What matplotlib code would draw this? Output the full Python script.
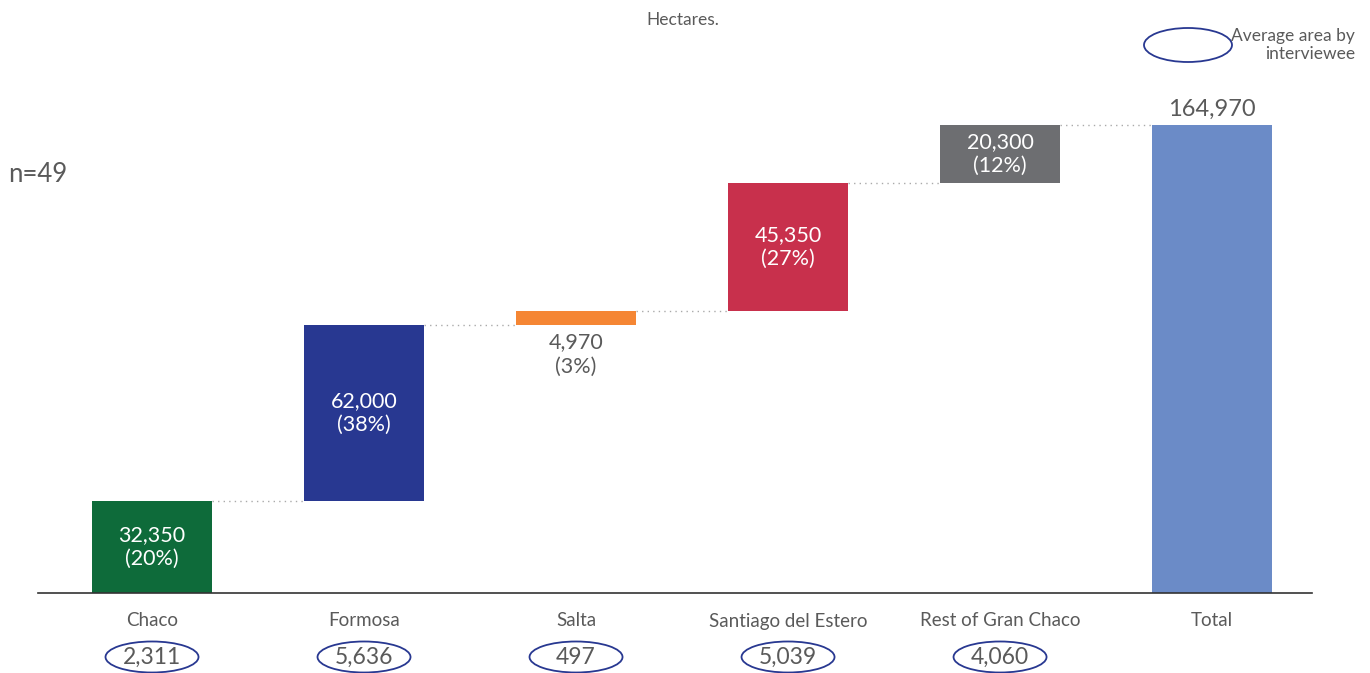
import matplotlib.pyplot as plt
from matplotlib.patches import Ellipse

plt.rcParams['font.family'] = ['Lato', 'DejaVu Sans']

categories = ['Chaco', 'Formosa', 'Salta', 'Santiago del Estero', 'Rest of Gran Chaco', 'Total']
values = [32350, 62000, 4970, 45350, 20300]
shares = ['20%', '38%', '3%', '27%', '12%']
avg_area = ['2,311', '5,636', '497', '5,039', '4,060']
colors = ['#0e6b3a', '#283891', '#f58634', '#c8304c', '#6d6e71', '#6b8bc7']

total = sum(values)
bottoms = [sum(values[:i]) for i in range(len(values))]

fig = plt.figure(figsize=(13.7, 6.73), dpi=100)
ax = fig.add_axes([0.0, 80 / 673, 1.0, (593 - 90) / 673])
ax.set_xlim(-0.717, 5.745)
ax.set_ylim(0, total * (593 - 90) / 468)
ax.axis('off')

w = 0.57
grey = '#5a5a5a'
x = list(range(len(categories)))
for i, (v, b) in enumerate(zip(values, bottoms)):
    ax.bar(x[i], v, bottom=b, width=w, color=colors[i], zorder=2)
    label = f'{v:,}\n({shares[i]})'
    if v < 10000:
        ax.text(x[i], b - 2500, label, ha='center', va='top', fontsize=15.5,
                color=grey, linespacing=1.25)
    else:
        ax.text(x[i], b + v / 2, label, ha='center', va='center', fontsize=15.5,
                color='white', linespacing=1.25)
ax.bar(x[-1], total, width=w, color=colors[-1], zorder=2)
ax.text(x[-1], total + 1800, f'{total:,}', ha='center', va='bottom', fontsize=17,
        color=grey)

# connectors
tops = [b + v for b, v in zip(bottoms, values)]
for i, t in enumerate(tops):
    ax.plot([x[i] + w / 2, x[i + 1] - w / 2], [t, t], ls=(0, (1, 3)),
            color='#aaaaaa', lw=1, zorder=1)

# baseline
ax.plot([-0.538, 5.47], [0, 0], color='#333333', lw=1.2, zorder=3, clip_on=False)

# category labels and averages
for i, c in enumerate(categories):
    fx, _ = fig.transFigure.inverted().transform(ax.transData.transform((x[i], 0)))
    fig.text(fx, 1 - 621 / 673, c, ha='center', va='center', fontsize=13.5, color=grey)
    if i < len(avg_area):
        fig.text(fx, 1 - 657 / 673, avg_area[i], ha='center', va='center', fontsize=16.5,
                 color=grey)
        fig.add_artist(Ellipse((fx, 1 - 657 / 673), 93 / 1370, 31 / 673,
                               transform=fig.transFigure, fill=False,
                               edgecolor='#283891', lw=1.3))

fig.text(683 / 1370, 1 - 20 / 673, 'Hectares.', ha='center', va='center', fontsize=12.5,
         color=grey)
fig.text(8 / 1370, 1 - 175 / 673, 'n=49', ha='left', va='center', fontsize=18.5,
         color=grey)
fig.add_artist(Ellipse((1188 / 1370, 1 - 45 / 673), 88 / 1370, 34 / 673,
                       transform=fig.transFigure, fill=False, edgecolor='#283891', lw=1.3))
fig.text(1355 / 1370, 1 - 45 / 673, 'Average area by\ninterviewee', ha='right', va='center',
         fontsize=12.5, color=grey, linespacing=1.2)

fig.savefig('out.png', dpi=100)
